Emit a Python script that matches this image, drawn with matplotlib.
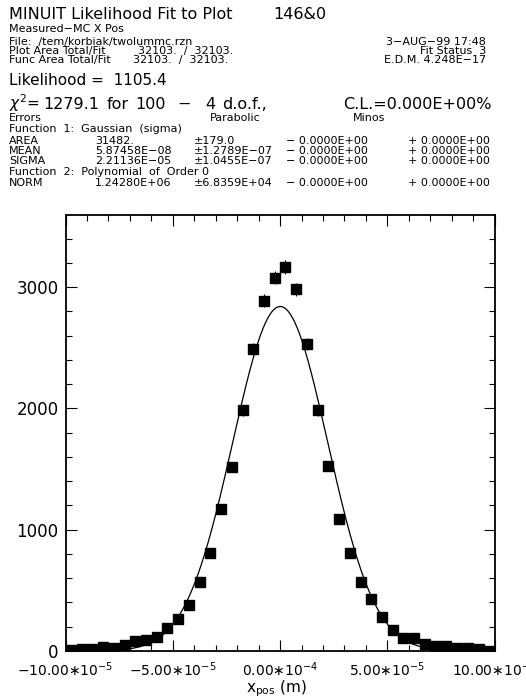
import numpy as np
import matplotlib
matplotlib.use("Agg")
import matplotlib.pyplot as plt
from matplotlib.ticker import FixedLocator, FixedFormatter, MultipleLocator

plt.rcParams['font.family'] = ['DejaVu Sans']
plt.rcParams['mathtext.fontset'] = 'dejavusans'

# ---- data ----
bin_centers = np.arange(-97.5e-6, 97.6e-6, 5e-6)
counts = [8, 16, 16, 36, 28, 50, 82, 91, 115, 187,
          264, 379, 571, 805, 1168, 1514, 1984, 2487, 2888, 3078,
          3163, 2982, 2531, 1984, 1525, 1088, 810, 566, 426, 280,
          171, 110, 105, 58, 39, 41, 22, 22, 16, 2]
fit_area = 31482.0
fit_mean = 5.87458e-08
fit_sigma = 2.21136e-05
bin_width = 5e-6

x_major = [-10e-5, -5e-5, 0.0, 5e-5, 10e-5]
x_labels = ["\u221210.00\u221710$^{\u22125}$", "\u22125.00\u221710$^{\u22125}$",
            "0.00\u221710$^{\u22124}$", "5.00\u221710$^{\u22125}$",
            "10.00\u221710$^{\u22125}$"]
y_major = [0, 1000, 2000, 3000]

# ---- figure ----
W, H = 526, 698
fig = plt.figure(figsize=(W / 100, H / 100), dpi=100)
ax = fig.add_axes([65.5 / W, 47 / H, 429.2 / W, 436 / H])

counts = np.array(counts, dtype=float)
ax.errorbar(bin_centers, counts, yerr=np.sqrt(counts), fmt='s', color='black',
            markersize=6.5, elinewidth=0.8, capsize=0)
xf = np.linspace(-1e-4, 1e-4, 600)
yf = fit_area * bin_width / (np.sqrt(2 * np.pi) * fit_sigma) * \
    np.exp(-0.5 * ((xf - fit_mean) / fit_sigma) ** 2)
ax.plot(xf, yf, color='black', lw=0.9)

ax.set_xlim(-1e-4, 1e-4)
ax.set_ylim(0, 3594)
ax.xaxis.set_major_locator(FixedLocator(x_major))
ax.xaxis.set_major_formatter(FixedFormatter(x_labels))
ax.xaxis.set_minor_locator(MultipleLocator(1e-5))
ax.yaxis.set_major_locator(FixedLocator(y_major))
ax.yaxis.set_minor_locator(MultipleLocator(200))
ax.tick_params(which='both', direction='in', top=True, right=True, width=0.8)
ax.tick_params(which='major', length=8, pad=5)
ax.tick_params(axis='y', which='major', labelsize=12)
ax.tick_params(axis='x', which='major', labelsize=10, pad=7)
ax.tick_params(which='minor', length=4)
for s in ax.spines.values():
    s.set_linewidth(1.3)
ax.set_xlabel("x$_{\\rm pos}$ (m)", fontsize=11)
ax.xaxis.label.set_va('center')
ax.xaxis.set_label_coords(0.491, -0.087)

# ---- header text ----
SM = 8.0
def t(x, y, s, size=SM, ha='left'):
    fig.text(x / W, 1 - y / H, s, fontsize=size, ha=ha, va='baseline')

t(9, 19, "MINUIT Likelihood Fit to Plot", 11.5)
t(273, 19, "146&0", 11.5)
t(9, 32, "Measured\u2212MC X Pos")
t(9, 45, "File:  /tem/korbiak/twolummc.rzn")
t(9, 54, "Plot Area Total/Fit")
t(138, 54, "32103.  /  32103.")
t(9, 63, "Func Area Total/Fit")
t(133, 63, "32103.  /  32103.")
t(486, 45, "3\u2212AUG\u221299 17:48", ha='right')
t(486, 54, "Fit Status  3", ha='right')
t(486, 63, "E.D.M. 4.248E\u221217", ha='right')
t(9, 85, "Likelihood =  1105.4", 11)
BG = 11.5
t(9, 109, "$\\chi^2$=", 11)
t(43, 109, "1279.1", BG)
t(107, 109, "for", BG)
t(135, 109, "100", BG)
t(177, 109, "\u2212", BG)
t(205, 109, "4", BG)
t(222, 109, "d.o.f.,", BG)
t(492, 109, "C.L.=0.000E+00%", BG, ha='right')
t(9, 121, "Errors")
t(210, 121, "Parabolic")
t(353, 121, "Minos")
t(9, 132.5, "Function  1:  Gaussian  (sigma)")
rows = [("AREA", "31482.", "\u00b1179.0"),
        ("MEAN", "5.87458E\u221208", "\u00b11.2789E\u221207"),
        ("SIGMA", "2.21136E\u221205", "\u00b11.0455E\u221207")]
for i, (n, v, e) in enumerate(rows):
    yb = 143.5 + i * 10.4
    t(9, yb, n)
    t(95, yb, v)
    t(194, yb, e)
    t(286, yb, "\u2212 0.0000E+00")
    t(408, yb, "+ 0.0000E+00")
t(9, 174.7, "Function  2:  Polynomial  of  Order 0")
t(9, 185.6, "NORM")
t(95, 185.6, "1.24280E+06")
t(194, 185.6, "\u00b16.8359E+04")
t(286, 185.6, "\u2212 0.0000E+00")
t(408, 185.6, "+ 0.0000E+00")

fig.savefig("out.png", dpi=100)
